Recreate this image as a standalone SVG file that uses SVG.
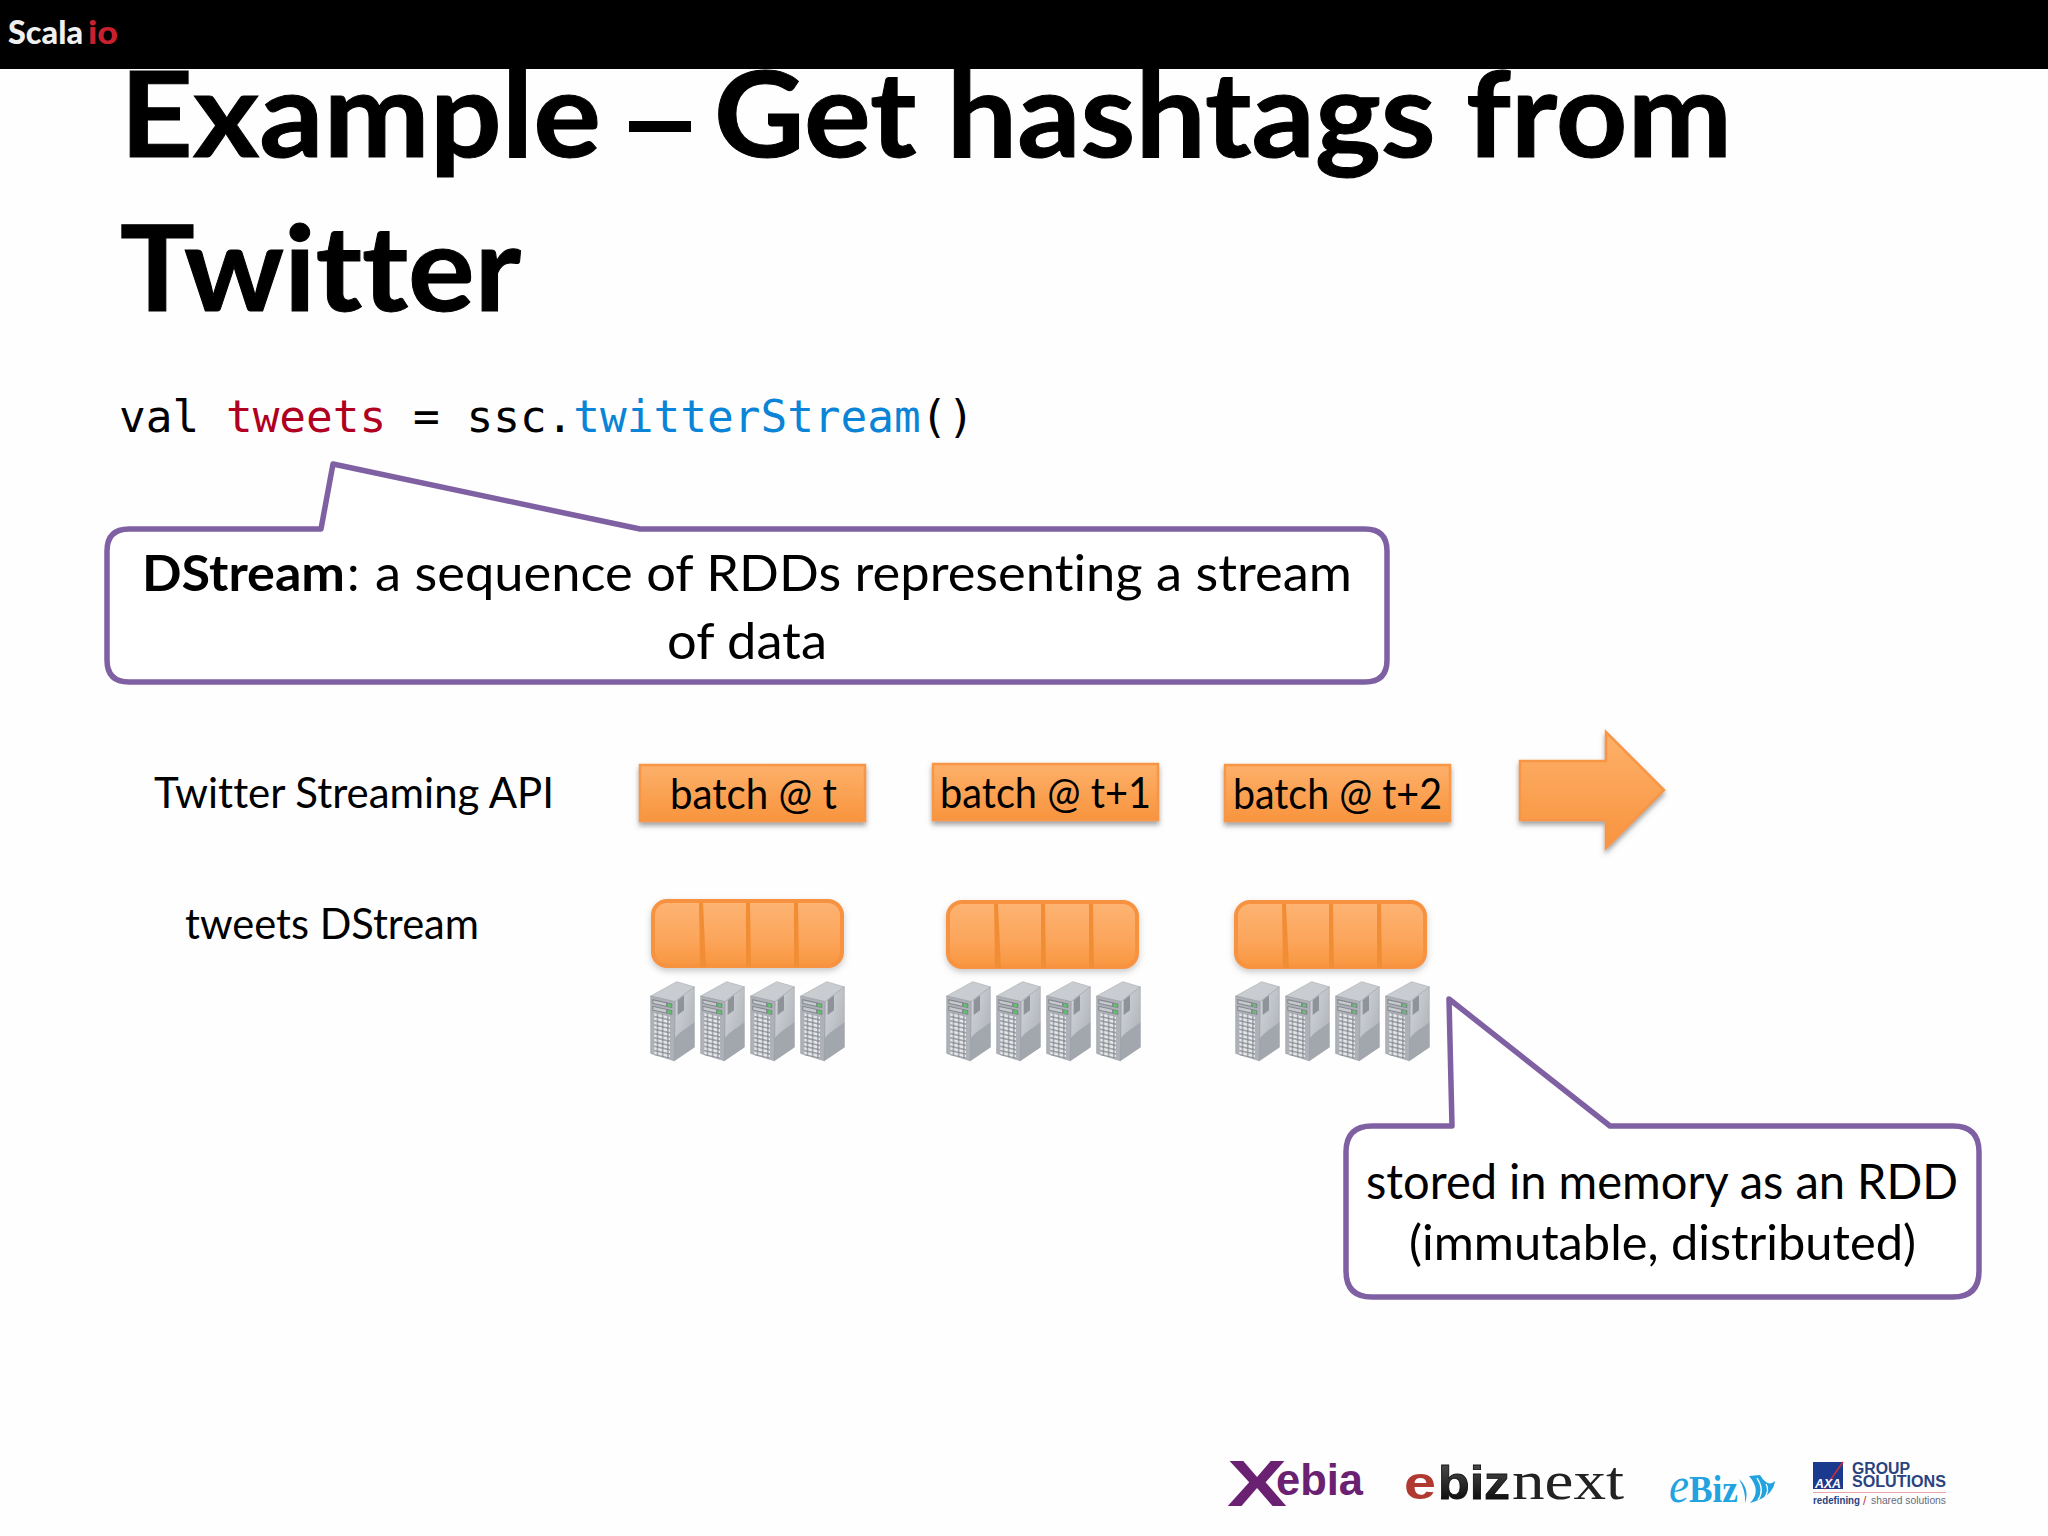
<svg xmlns="http://www.w3.org/2000/svg" xmlns:xlink="http://www.w3.org/1999/xlink" width="2048" height="1536" viewBox="0 0 2048 1536">
<style>
text{font-variant-ligatures:none}
.t{font-family:"Lato","Carlito","Open Sans",sans-serif;fill:#000}
.b{font-weight:700}
.h{stroke:#000;stroke-width:1}
.call{fill:#fff;stroke:#7f60a2;stroke-width:5.5;stroke-linejoin:round}
.batch{fill:url(#og);stroke:#f79646;stroke-width:2.5;filter:url(#sh)}
.blk{fill:url(#og2);stroke:#f79240;stroke-width:4;filter:url(#sh2)}
.div{fill:#f18d35}
.m{font-family:"DejaVu Sans Mono","Liberation Mono",monospace;font-size:44.4px}
</style>
<defs>
<linearGradient id="og" x1="0" y1="0" x2="0" y2="1"><stop offset="0" stop-color="#fdb06a"/><stop offset="1" stop-color="#f8943e"/></linearGradient>
<linearGradient id="og2" x1="0" y1="0" x2="0" y2="1"><stop offset="0" stop-color="#fdb473"/><stop offset=".6" stop-color="#fca55b"/><stop offset="1" stop-color="#f8963f"/></linearGradient>
<linearGradient id="sf" x1="0" y1="0" x2="1" y2="1"><stop offset="0" stop-color="#d3d6da"/><stop offset="1" stop-color="#a9adb3"/></linearGradient>
<linearGradient id="ebn" x1="0" y1="0" x2="0" y2="1"><stop offset="0" stop-color="#555"/><stop offset="1" stop-color="#000"/></linearGradient>
<filter id="sh" x="-10%" y="-20%" width="120%" height="150%"><feDropShadow dx="0" dy="3.5" stdDeviation="2.5" flood-color="#555" flood-opacity=".55"/></filter>
<filter id="sh2" x="-10%" y="-20%" width="120%" height="150%"><feDropShadow dx="0" dy="3" stdDeviation="3" flood-color="#777" flood-opacity=".4"/></filter>
<pattern id="cells" width="15.5" height="11.5" patternUnits="userSpaceOnUse"><rect width="15.5" height="11.5" fill="#7b8087"/><rect x="1.5" y="1.5" width="12.5" height="8.5" fill="#e4e6e8"/></pattern>
<g id="srv">
<polygon points="17,57 95,18 148,32 90,72" fill="#c9ccd0" stroke="#a0a4aa" stroke-width="1.5"/>
<polygon points="90,72 148,32 148,195 88,232" fill="url(#sf)" stroke="#9a9ea5" stroke-width="1.5"/>
<path d="M90,170 C110,150 125,145 148,128 L148,195 L88,232Z" fill="#a2a6ad"/>
<polygon points="98,68 117,55 117,95 98,108" fill="#8e939a"/>
<polygon points="17,57 90,72 88,232 17,212" fill="#aeb2b8" stroke="#8f949b" stroke-width="1.5"/>
<g transform="matrix(1,.2,0,1,22,65)">
<rect x="0" y="0" width="60" height="13" fill="#83888e"/><rect x="3" y="3" width="38" height="7" fill="#c7cacd"/><rect x="46" y="3" width="10" height="8" fill="#5fc46a"/>
<rect x="0" y="18" width="60" height="13" fill="#83888e"/><rect x="3" y="21" width="38" height="7" fill="#c7cacd"/><rect x="46" y="21" width="10" height="8" fill="#5fc46a"/>
<rect x="6" y="36" width="47" height="115" fill="url(#cells)"/>
</g>
</g>
<g id="srvs" transform="scale(.3333,.37)">
<use xlink:href="#srv" x="0"/><use xlink:href="#srv" x="150"/><use xlink:href="#srv" x="300"/><use xlink:href="#srv" x="450"/>
</g>
<g id="dstr">
<rect class="blk" x="1" y="1" width="189" height="65" rx="14"/>
<polygon class="div" points="47,3 51,3 54,67 48,67"/>
<polygon class="div" points="94,3 98,3 99,67 94,67"/>
<polygon class="div" points="142,3 146,3 147,67 142,67"/>
</g>
</defs>
<rect width="2048" height="1536" fill="#fefefe"/>

<g id="title">
<text class="t b h" x="120" y="157" font-size="118" textLength="481" lengthAdjust="spacingAndGlyphs">Example</text>
<rect x="629" y="121" width="62" height="11" fill="#000"/>
<text class="t b h" x="714" y="157" font-size="118" textLength="1018" lengthAdjust="spacingAndGlyphs">Get hashtags from</text>
<text class="t b h" x="120" y="311" font-size="118" textLength="401" lengthAdjust="spacingAndGlyphs">Twitter</text>
</g>
<g id="header">
<rect width="2048" height="69" fill="#000"/>
<text x="8" y="44" font-family="Lato,'Open Sans',sans-serif" font-weight="900" font-size="32" fill="#f0f0f0" textLength="75" lengthAdjust="spacingAndGlyphs">Scala</text>
<text x="88" y="44" font-family="Lato,'Open Sans',sans-serif" font-weight="900" font-size="32" fill="#c9202f" textLength="30" lengthAdjust="spacingAndGlyphs">io</text>
</g>

<g id="code">
<text class="m" x="119" y="432">val <tspan fill="#b1001f">tweets</tspan> = ssc.<tspan fill="#0a84d6">twitterStream</tspan>()</text>
</g>

<g id="callout-dstream">
<path class="call" d="M129,529 H321 L333,464 L640,529 H1365 Q1387,529 1387,551 V660 Q1387,682 1365,682 H129 Q107,682 107,660 V551 Q107,529 129,529Z"/>
<text class="t b" x="142" y="591" font-size="50" textLength="203" lengthAdjust="spacingAndGlyphs">DStream</text>
<text class="t" x="347" y="591" font-size="50">:</text>
<text class="t" x="375" y="591" font-size="50" textLength="977" lengthAdjust="spacingAndGlyphs">a sequence of RDDs representing a stream</text>
<text class="t" x="667" y="659" font-size="50" textLength="160" lengthAdjust="spacingAndGlyphs">of data</text>
</g>

<g id="label-api"><text class="t" x="154" y="808" font-size="42" textLength="400" lengthAdjust="spacingAndGlyphs">Twitter Streaming API</text></g>
<g id="label-dstream"><text class="t" x="185" y="939" font-size="42" textLength="294" lengthAdjust="spacingAndGlyphs">tweets DStream</text></g>

<g id="batch-t">
<rect class="batch" x="640" y="765" width="225" height="56"/>
<text class="t" x="670" y="809" font-size="42" textLength="167" lengthAdjust="spacingAndGlyphs">batch @ t</text>
</g>
<g id="batch-t1">
<rect class="batch" x="933" y="764" width="225" height="56"/>
<text class="t" x="940" y="808" font-size="42" textLength="211" lengthAdjust="spacingAndGlyphs">batch @ t+1</text>
</g>
<g id="batch-t2">
<rect class="batch" x="1225" y="765" width="225" height="56"/>
<text class="t" x="1233" y="809" font-size="42" textLength="209" lengthAdjust="spacingAndGlyphs">batch @ t+2</text>
</g>
<g id="time-arrow">
<polygon class="batch" points="1520,761 1606,761 1606,732 1664,790 1606,848 1606,820 1520,820"/>
</g>

<g id="rdd-1"><use xlink:href="#dstr" x="652" y="900"/><use xlink:href="#srvs" transform="translate(645,975)"/></g>
<g id="rdd-2"><use xlink:href="#dstr" x="947" y="901"/><use xlink:href="#srvs" transform="translate(941,975)"/></g>
<g id="rdd-3"><use xlink:href="#dstr" x="1235" y="901"/><use xlink:href="#srvs" transform="translate(1230,975)"/></g>

<g id="callout-rdd">
<path class="call" d="M1372,1126 H1452 L1449,999 L1610,1126 H1953 Q1979,1126 1979,1152 V1271 Q1979,1297 1953,1297 H1372 Q1346,1297 1346,1271 V1152 Q1346,1126 1372,1126Z"/>
<text class="t" x="1366" y="1199" font-size="48" textLength="592" lengthAdjust="spacingAndGlyphs">stored in memory as an RDD</text>
<text class="t" x="1409" y="1260" font-size="48" textLength="507" lengthAdjust="spacingAndGlyphs">(immutable, distributed)</text>
</g>

<g id="logo-xebia" fill="#6b2172">
<text x="1227" y="1506" font-family="Liberation Sans,sans-serif" font-weight="700" font-size="64" textLength="60" lengthAdjust="spacingAndGlyphs">X</text>
<text x="1276" y="1495" font-family="Liberation Sans,sans-serif" font-weight="700" font-size="44" textLength="87" lengthAdjust="spacingAndGlyphs">ebia</text>
</g>
<g id="logo-ebiznext">
<text transform="translate(1404,1499) scale(1.25,1)" font-family="Liberation Sans,sans-serif" font-weight="700" font-size="46" fill="#b03a32">e</text>
<text x="1438" y="1499" font-family="Liberation Sans,sans-serif" font-weight="700" font-size="46" fill="url(#ebn)" stroke="#111" stroke-width=".8" textLength="72" lengthAdjust="spacingAndGlyphs">biz</text>
<text x="1512" y="1499" font-family="Liberation Serif,serif" font-size="54" fill="#222" textLength="112" lengthAdjust="spacingAndGlyphs">next</text>
</g>
<g id="logo-ebiz" fill="#22a3e0">
<text x="1669" y="1502" font-family="Liberation Serif,serif" font-style="italic" font-size="50" textLength="20" lengthAdjust="spacingAndGlyphs">e</text>
<text x="1689" y="1502" font-family="Liberation Serif,serif" font-size="38" font-weight="700" textLength="49" lengthAdjust="spacingAndGlyphs">Biz</text>
<path d="M1739,1479 Q1750,1489 1745,1503 Q1746,1491 1739,1479Z M1749,1476 L1760,1475 Q1768,1488 1775,1481 Q1773,1497 1750,1503 Q1762,1491 1749,1476Z"/>
<path d="M1757,1478 Q1765,1490 1758,1500 M1766,1484 Q1770,1490 1764,1499" fill="none" stroke="#fefefe" stroke-width="1.3"/>
</g>
<g id="logo-axa">
<rect x="1813" y="1462" width="30" height="27" fill="#1c3a8d"/>
<line x1="1824" y1="1489" x2="1843" y2="1462" stroke="#c8303a" stroke-width="1.5"/>
<text x="1815" y="1488" font-family="Liberation Sans,sans-serif" font-weight="700" font-style="italic" font-size="13" fill="#fff" textLength="26" lengthAdjust="spacingAndGlyphs">AXA</text>
<text x="1852" y="1474" font-family="Liberation Sans,sans-serif" font-size="16" font-weight="700" fill="#2a437f" textLength="58" lengthAdjust="spacingAndGlyphs">GROUP</text>
<text x="1852" y="1487" font-family="Liberation Sans,sans-serif" font-size="16" font-weight="700" fill="#2a437f" textLength="94" lengthAdjust="spacingAndGlyphs">SOLUTIONS</text>
<line x1="1813" y1="1492.5" x2="1946" y2="1492.5" stroke="#eca5a8" stroke-width="1"/>
<text x="1813" y="1504" font-family="Liberation Sans,sans-serif" font-size="10.5" font-weight="700" fill="#2a437f" textLength="47" lengthAdjust="spacingAndGlyphs">redefining</text>
<text x="1863" y="1505" font-family="Liberation Sans,sans-serif" font-size="12" fill="#c8303a">/</text>
<text x="1871" y="1504" font-family="Liberation Sans,sans-serif" font-size="10.5" fill="#666b78" textLength="75" lengthAdjust="spacingAndGlyphs">shared solutions</text>
</g>
</svg>
